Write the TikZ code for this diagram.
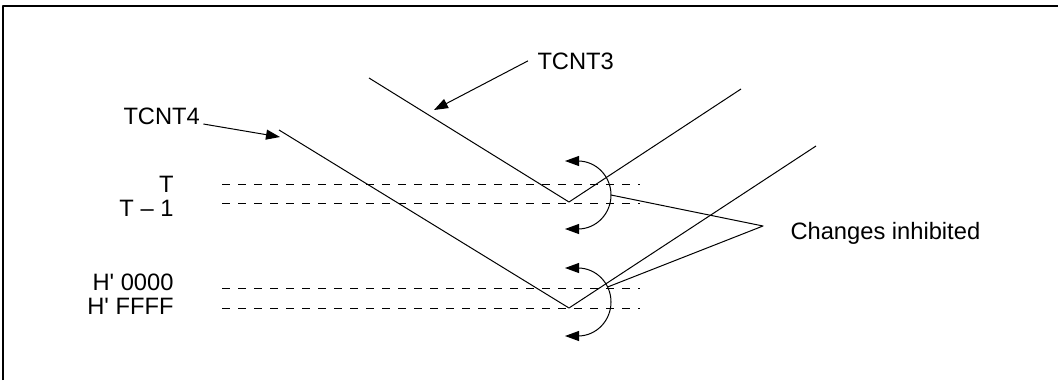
\documentclass[tikz,border=0pt]{standalone}
\usepackage{fontspec}
\setmainfont{Liberation Sans}
\usetikzlibrary{arrows.meta}
\begin{document}
\begin{tikzpicture}[x=0.5pt, y=-0.5pt, line join=round, line width=0.5pt, >={Triangle[length=7pt,width=5pt]}, font=\fontsize{11.85pt}{14pt}\selectfont, lbl/.style={inner sep=0pt}, level/.style={dash pattern=on 4pt off 4pt}]
	\useasboundingbox (0,0) rectangle (1058,380);
	\draw[line width=0.7pt] (3,380) -- (3,6) -- (1058,6);
	
	\coordinate (A3) at (369,78);
	\coordinate (V3) at (569,202);
	\coordinate (B3) at (741,89);
	\coordinate (A4) at (279,130);
	\coordinate (V4) at (569,308);
	\coordinate (B4) at (816,146);
	\coordinate (C3) at (611,195);
	\coordinate (C4) at (607.6,287);
	\coordinate (ci) at (763,226);
	
	\draw (A3) -- (V3) -- (B3);
	\draw (A4) -- (V4) -- (B4);
	
	\foreach \ly/\by/\t [count=\i] in {184/192/T, 203/216/T -- 1, 288/290/H\textquotesingle{} 0000, 308/314/H\textquotesingle{} FFFF} {
		\draw[level] (222,\ly) -- (640,\ly);
		\node[lbl, anchor=base east] (lv\i) at (174,\by) {\t};
	}
	
	\draw[<->] (565,161) -- (578,161) arc[start angle=90, end angle=-90, x radius=16.5pt, y radius=17pt] -- (565,229);
	\draw[<->] (565,268) -- (578,268) arc[start angle=90, end angle=-90, x radius=16.5pt, y radius=17pt] -- (565,336);
	
	\node[lbl, anchor=base west] (tcnt3) at (537,69) {TCNT3};
	\node[lbl, anchor=base west] (tcnt4) at (123,124) {TCNT4};
	\node[lbl, anchor=base west] (chg) at (790,239) {Changes inhibited};
	\coordinate (p3) at (434,110);
	\coordinate (p4) at (280,137);
	\draw[->] ([xshift=-4.5pt]tcnt3.west) -- (p3);
	\draw[->] ([xshift=1.5pt]tcnt4.base east) -- (p4);
	\draw (C3) -- (ci) -- (C4);
\end{tikzpicture}
\end{document}
